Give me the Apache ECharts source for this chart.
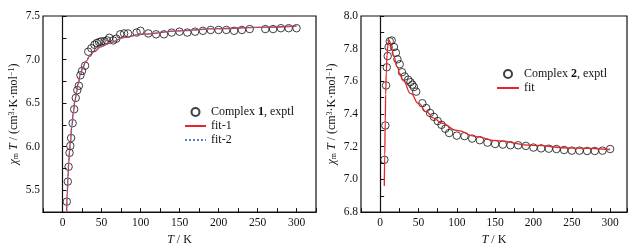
<!DOCTYPE html>
<html>
<head>
<meta charset="utf-8">
<script src="https://cdn.jsdelivr.net/npm/echarts@6.0.0/dist/echarts.min.js"></script>
<style>
  html, body { margin: 0; padding: 0; background: #fff; }
  #chart { width: 644px; height: 251px; }
</style>
</head>
<body>
<div id="chart"></div>
<script>
// complex 1 measured points
const t1 = [5.5, 6.8, 7.8, 9, 10, 11, 13, 15, 17, 19, 21, 23, 25, 29, 33, 37, 41, 44, 47, 50, 54, 57, 60, 65, 69, 74, 79, 84, 95, 100, 110, 120, 130, 140, 150, 160, 170, 180, 190, 200, 210, 220, 230, 240, 260, 270, 280, 290, 300];
const chi1 = [5.37, 5.60, 5.77, 5.93, 6.01, 6.10, 6.27, 6.43, 6.56, 6.65, 6.70, 6.82, 6.87, 6.93, 7.09, 7.13, 7.17, 7.19, 7.20, 7.21, 7.21, 7.22, 7.25, 7.22, 7.24, 7.29, 7.30, 7.30, 7.31, 7.33, 7.30, 7.29, 7.29, 7.31, 7.32, 7.31, 7.32, 7.33, 7.34, 7.34, 7.34, 7.33, 7.34, 7.35, 7.35, 7.35, 7.36, 7.36, 7.36];

// complex 1 fits (fit-1 and fit-2 lie on top of each other)
const tFit1 = [5.3, 6, 7, 8, 9, 10, 12, 14, 16, 18, 20, 23, 26, 30, 35, 40, 50, 60, 80, 100, 150, 200, 250, 300];
const fit1 = [5.25, 5.45, 5.65, 5.82, 5.95, 6.05, 6.24, 6.40, 6.53, 6.63, 6.72, 6.83, 6.91, 6.98, 7.04, 7.09, 7.15, 7.195, 7.255, 7.29, 7.33, 7.355, 7.37, 7.385];
const fit2 = [5.25, 5.45, 5.65, 5.82, 5.95, 6.05, 6.24, 6.40, 6.53, 6.63, 6.72, 6.83, 6.91, 6.98, 7.04, 7.09, 7.15, 7.195, 7.255, 7.29, 7.33, 7.355, 7.37, 7.385];

// complex 2 measured points
const t2 = [5.5, 6.8, 7.7, 8.6, 9.8, 11, 12.5, 15, 18, 20.5, 22.5, 25.5, 28.5, 32, 36.5, 39.5, 42, 44, 47, 55, 60, 65, 70, 75, 80, 85, 90, 100, 110, 120, 130, 140, 150, 160, 170, 180, 190, 200, 210, 220, 230, 240, 250, 260, 270, 280, 290, 300];
const chi2 = [7.12, 7.33, 7.575, 7.686, 7.755, 7.81, 7.845, 7.85, 7.81, 7.775, 7.735, 7.705, 7.656, 7.63, 7.61, 7.595, 7.58, 7.565, 7.537, 7.466, 7.437, 7.407, 7.383, 7.357, 7.334, 7.31, 7.284, 7.268, 7.265, 7.25, 7.24, 7.225, 7.217, 7.213, 7.209, 7.209, 7.205, 7.195, 7.19, 7.188, 7.186, 7.18, 7.176, 7.176, 7.174, 7.174, 7.176, 7.186];

// complex 2 fit
const tFit2 = [5.4, 6, 6.6, 7.2, 8, 9, 10, 11.5, 13, 15, 18, 22, 26, 30, 40, 50, 60, 70, 80, 100, 125, 150, 200, 250, 300];
const fitC2 = [6.96, 7.15, 7.35, 7.52, 7.66, 7.76, 7.82, 7.853, 7.84, 7.80, 7.75, 7.69, 7.645, 7.605, 7.525, 7.465, 7.415, 7.375, 7.345, 7.30, 7.262, 7.237, 7.208, 7.192, 7.183];

const zip = (xs, ys) => xs.map((x, i) => [x, ys[i]]);

const FONT = '"Liberation Serif", "Times New Roman", serif';
const INK = '#111';
const RED = '#e3262b';
const BLUE = '#5a7bd0';

const yName = '{i|χ}{sub|m}{i| T} / (cm{sup|3}·K·mol{sup|−1})';
const nameRich = {
  i: { fontStyle: 'italic', fontSize: 12, fontFamily: FONT, color: INK },
  sub: { fontSize: 8, fontFamily: FONT, color: INK, verticalAlign: 'bottom' },
  sup: { fontSize: 8, fontFamily: FONT, color: INK, verticalAlign: 'top' }
};
const legendRich = { b: { fontWeight: 'bold', fontFamily: FONT, fontSize: 12, color: INK } };

function xAxisOf(gridIndex) {
  return {
    type: 'value',
    gridIndex,
    min: -25,
    max: gridIndex === 0 ? 325 : 322,
    interval: 25,
    name: '{i|T} / K',
    nameLocation: 'middle',
    nameGap: 13,
    nameTextStyle: { fontFamily: FONT, fontSize: 12, color: INK, rich: nameRich },
    axisLine: { lineStyle: { color: INK, width: 1.2 } },
    axisTick: { inside: true, length: 4, lineStyle: { color: INK } },
    axisLabel: {
      margin: 5,
      fontFamily: FONT,
      fontSize: 11.5,
      color: INK,
      formatter: v => (v >= 0 && v % 50 === 0) ? String(v) : ''
    },
    splitLine: { show: false }
  };
}

function yAxisOf(gridIndex, min, max, step, labelStep) {
  return {
    type: 'value',
    gridIndex,
    min,
    max,
    interval: step,
    name: yName,
    nameLocation: 'middle',
    nameRotate: 90,
    nameGap: 23,
    nameTextStyle: { fontFamily: FONT, fontSize: 12, color: INK, rich: nameRich },
    axisLine: { show: true, lineStyle: { color: INK, width: 1.2 } },
    axisTick: { show: true, inside: true, length: 4, lineStyle: { color: INK } },
    axisLabel: {
      margin: 3,
      fontFamily: FONT,
      fontSize: 11.5,
      color: INK,
      formatter: v => {
        const k = v / labelStep;
        return Math.abs(k - Math.round(k)) < 1e-6 ? v.toFixed(1) : '';
      }
    },
    splitLine: { show: false }
  };
}

const option = {
  backgroundColor: '#fff',
  animation: false,
  grid: [
    { left: 43, top: 16, width: 273, height: 201, show: true, borderColor: INK, borderWidth: 1.2 },
    { left: 361, top: 16, width: 266, height: 202, show: true, borderColor: INK, borderWidth: 1.2 }
  ],
  xAxis: [xAxisOf(0), xAxisOf(1)],
  yAxis: [yAxisOf(0, 5.25, 7.5, 0.25, 0.5), yAxisOf(1, 6.8, 8.0, 0.1, 0.2)],
  legend: [
    {
      orient: 'vertical',
      left: 184,
      top: 106,
      padding: 0,
      itemWidth: 21,
      itemHeight: 8,
      itemGap: 2,
      data: [
        'Complex 1, exptl',
        { name: 'fit-1', itemStyle: { opacity: 0 } },
        { name: 'fit-2', itemStyle: { opacity: 0 } }
      ],
      textStyle: { fontFamily: FONT, fontSize: 12, color: INK, rich: legendRich },
      formatter: name => name.replace(/(\d),/, '{b|$1},')
    },
    {
      orient: 'vertical',
      left: 496,
      top: 68,
      padding: 0,
      itemWidth: 22,
      itemHeight: 8,
      itemGap: 2,
      data: [
        'Complex 2, exptl',
        { name: 'fit', itemStyle: { opacity: 0 } }
      ],
      textStyle: { fontFamily: FONT, fontSize: 12, color: INK, rich: legendRich },
      formatter: name => name.replace(/(\d),/, '{b|$1},')
    }
  ],
  series: [
    {
      name: 'fit-1',
      type: 'line',
      xAxisIndex: 0,
      yAxisIndex: 0,
      data: zip(tFit1, fit1),
      smooth: true,
      smoothMonotone: 'x',
      showSymbol: false,
      lineStyle: { color: RED, width: 1.3 },
      itemStyle: { color: RED }
    },
    {
      name: 'fit-2',
      type: 'line',
      xAxisIndex: 0,
      yAxisIndex: 0,
      data: zip(tFit1, fit2),
      smooth: true,
      smoothMonotone: 'x',
      showSymbol: false,
      lineStyle: { color: BLUE, width: 1.3, type: [2, 2] },
      itemStyle: { color: BLUE }
    },
    {
      name: 'Complex 1, exptl',
      type: 'scatter',
      xAxisIndex: 0,
      yAxisIndex: 0,
      data: zip(t1, chi1),
      symbol: 'circle',
      symbolSize: 7.5,
      itemStyle: { color: 'rgba(255,255,255,0)', borderColor: INK, borderWidth: 1 }
    },
    {
      name: 'fit',
      type: 'line',
      xAxisIndex: 1,
      yAxisIndex: 1,
      data: zip(tFit2, fitC2),
      smooth: true,
      smoothMonotone: 'x',
      showSymbol: false,
      lineStyle: { color: RED, width: 1.3 },
      itemStyle: { color: RED }
    },
    {
      name: 'Complex 2, exptl',
      type: 'scatter',
      xAxisIndex: 1,
      yAxisIndex: 1,
      data: zip(t2, chi2),
      symbol: 'circle',
      symbolSize: 7.5,
      itemStyle: { color: 'rgba(255,255,255,0)', borderColor: INK, borderWidth: 1 }
    }
  ]
};

const myChart = echarts.init(document.getElementById('chart'));
myChart.setOption(option);
</script>
</body>
</html>
